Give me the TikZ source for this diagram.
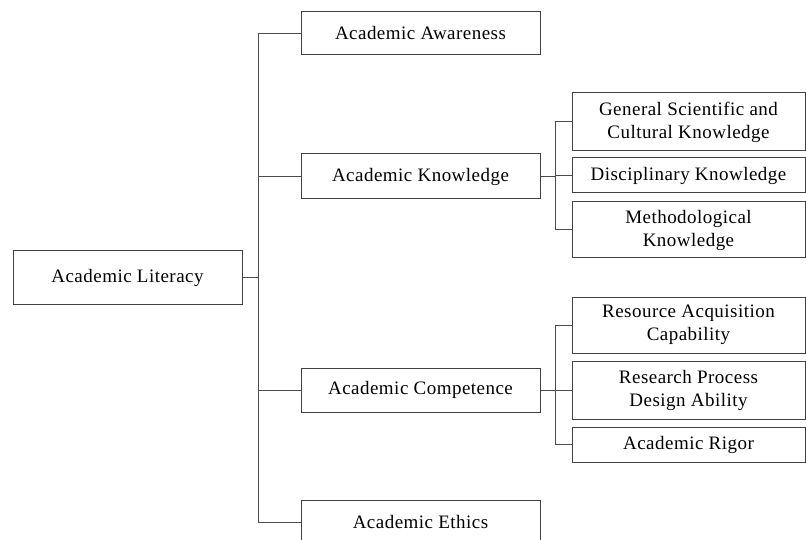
\documentclass[tikz,border=0pt]{standalone}
\usepackage{fontspec}
\setmainfont{Liberation Serif}[LetterSpace=2.5]
\begin{document}
\begin{tikzpicture}[x=1pt,y=-1pt,
  box/.style={draw=black!75,line width=1pt,inner sep=0pt,align=center,
    font=\fontsize{19}{23}\selectfont,text=black},
  conn/.style={draw=black!70,line width=1pt}]
\useasboundingbox (0,0) rectangle (806,540);
\clip (0,0) rectangle (806,540);
\fill[white] (0,0) rectangle (806,540);
\node[box,minimum width=229,minimum height=53] (root) at (127.5,277.5) {Academic Literacy};
\node[box,minimum width=239,minimum height=43] (aw) at (420.5,33.5) {Academic Awareness};
\node[box,minimum width=239,minimum height=45] (kn) at (420.5,176.5) {Academic Knowledge};
\node[box,minimum width=239,minimum height=44] (co) at (420.5,390) {Academic Competence};
\node[box,minimum width=239,minimum height=44] (et) at (420.5,522) {Academic Ethics};
\node[box,minimum width=233,minimum height=58] (gen) at (688.5,122) {General Scientific and\\Cultural Knowledge};
\node[box,minimum width=233,minimum height=35] (dis) at (688.5,175.5) {Disciplinary Knowledge};
\node[box,minimum width=233,minimum height=56] (met) at (688.5,230) {Methodological\\Knowledge};
\node[box,minimum width=233,minimum height=56] (res) at (688.5,325) {Resource Acquisition\\Capability};
\node[box,minimum width=233,minimum height=58] (rpd) at (688.5,390) {Research Process\\Design Ability};
\node[box,minimum width=233,minimum height=35] (rig) at (688.5,444.5) {Academic Rigor};
\coordinate (t) at (258,0);
\coordinate (s1) at (555,0);
\draw[conn] (root.east) -- (root.east -| t);
\draw[conn] (aw.west) -- (aw.west -| t) -- (et.west -| t) -- (et.west);
\draw[conn] (kn.west) -- (kn.west -| t);
\draw[conn] (co.west) -- (co.west -| t);
\draw[conn] (kn.east) -- (kn.east -| s1);
\draw[conn] (gen.west) -- (gen.west -| s1) -- (met.west -| s1) -- (met.west);
\draw[conn] (dis.west) -- (dis.west -| s1);
\draw[conn] (co.east) -- (co.east -| s1);
\draw[conn] (res.west) -- (res.west -| s1) -- (rig.west -| s1) -- (rig.west);
\draw[conn] (rpd.west) -- (rpd.west -| s1);
\end{tikzpicture}
\end{document}
